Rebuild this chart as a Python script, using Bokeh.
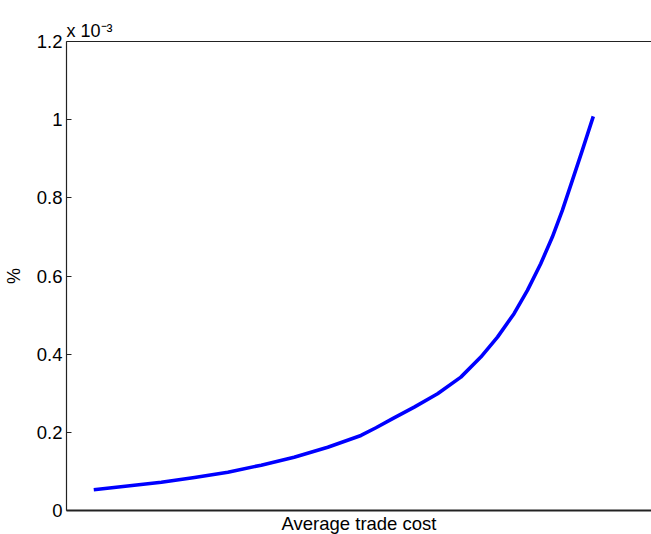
from bokeh.plotting import figure
from bokeh.models import LinearAxis, FixedTicker, Range1d, Title
from bokeh.embed import file_html
from bokeh.resources import INLINE

# data (x: normalised position along trade-cost axis, y: % in units of 1e-3)
trade_cost = [0.0466, 0.1621, 0.2189, 0.2759, 0.3328, 0.3891, 0.4466, 0.5034,
              0.5290, 0.5575, 0.5944, 0.6343, 0.6741, 0.7082, 0.7367, 0.7650,
              0.7879, 0.8106, 0.8305, 0.8476, 0.8647, 0.8817, 0.9005]
pct_e3 = [0.053, 0.0724, 0.0845, 0.098, 0.116, 0.136, 0.162, 0.192,
          0.2117, 0.235, 0.2645, 0.2986, 0.3413, 0.3925, 0.4437, 0.5035,
          0.5631, 0.6314, 0.6996, 0.7679, 0.8447, 0.9214, 1.0084]
y_ticks = [0, 0.2, 0.4, 0.6, 0.8, 1.0, 1.2]
y_tick_labels = ["0", "0.2", "0.4", "0.6", "0.8", "1", "1.2"]
x_label = "Average trade cost"
y_label = "%"
exponent_label = "x 10\u207b\u00b3"

FONT = "Liberation Sans"

p = figure(width=651, height=534, output_backend="svg", toolbar_location=None,
           x_range=Range1d(0, 1.0), y_range=Range1d(0, 1.2),
           min_border_left=57, min_border_right=0, min_border_top=41,
           min_border_bottom=24, title=None)
p.outline_line_color = None
p.grid.visible = False
p.background_fill_color = "white"

p.line(trade_cost, pct_e3, line_color="#0000FF", line_width=3.6,
       line_join="round", line_cap="butt")

# y axis
ya = p.yaxis[0]
ya.ticker = FixedTicker(ticks=y_ticks)
ya.major_label_overrides = {t: l for t, l in zip(y_ticks, y_tick_labels)}
ya.major_tick_in = 5
ya.major_tick_out = 0
ya.minor_tick_line_color = None
ya.major_label_standoff = 4
ya.major_label_text_font = FONT
ya.major_label_text_font_size = "18.5px"
ya.major_label_text_color = "black"
ya.axis_line_color = "#222222"
ya.axis_line_width = 1.2
ya.major_tick_line_color = "#222222"
ya.axis_label = y_label
ya.axis_label_text_font = FONT
ya.axis_label_text_font_size = "18px"
ya.axis_label_text_font_style = "normal"
ya.axis_label_text_color = "black"
ya.axis_label_standoff = 10

# x axis (no ticks)
xa = p.xaxis[0]
xa.ticker = FixedTicker(ticks=[])
xa.major_tick_in = 0
xa.major_tick_out = 0
xa.minor_tick_line_color = None
xa.axis_line_color = "#222222"
xa.axis_line_width = 2
xa.major_label_text_font_size = "0px"

# top frame line
top = LinearAxis(ticker=FixedTicker(ticks=[]), major_tick_in=0, major_tick_out=0,
                 minor_tick_line_color=None, major_label_text_font_size="0px",
                 axis_line_color="#222222", axis_line_width=1.2)
p.add_layout(top, "above")

p.add_layout(Title(text=exponent_label, align="left", text_font=FONT,
                   text_font_size="18px", text_font_style="normal",
                   text_color="black", standoff=2), "above")
p.add_layout(Title(text=x_label, align="center", offset=5.5, text_font=FONT,
                   text_font_size="18.5px", text_font_style="normal",
                   text_color="black", standoff=0), "below")

open("out.html", "w").write(file_html(p, INLINE))
